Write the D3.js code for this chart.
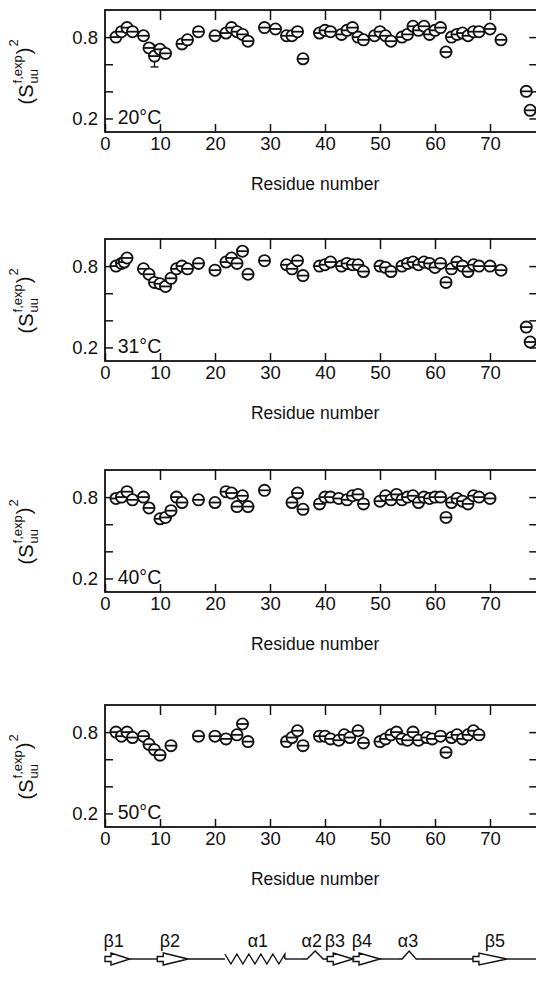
<!DOCTYPE html>
<html>
<head>
<meta charset="utf-8">
<script src="https://cdn.jsdelivr.net/npm/d3@7"></script>
<style>
  body { margin: 0; background: #fff; }
  text { font-family: "Liberation Sans", Arial, sans-serif; fill: #111; }
</style>
</head>
<body>
<svg id="chart" width="536" height="992"></svg>
<script>
// ---- data ----
const temps = ['20°C', '31°C', '40°C', '50°C'];

const res20 = [2, 3, 4, 5, 7, 8, 9, 10, 11, 14, 15, 17, 20, 22, 23, 24, 25, 26, 29, 31, 33, 34, 35, 36,
  39, 40, 41, 43, 44, 45, 46, 47, 49, 50, 51, 52, 54, 55, 56, 57, 58, 59, 60, 61, 62, 63, 64, 65, 66, 67, 68, 70, 72, 76.6, 77.3];
const s20 = [0.80, 0.84, 0.87, 0.84, 0.81, 0.72, 0.66, 0.71, 0.68, 0.75, 0.78, 0.84, 0.81, 0.83, 0.87, 0.84, 0.82, 0.77, 0.87, 0.86, 0.81, 0.81, 0.84, 0.64,
  0.83, 0.85, 0.84, 0.82, 0.85, 0.87, 0.80, 0.78, 0.81, 0.84, 0.81, 0.77, 0.80, 0.82, 0.88, 0.85, 0.88, 0.82, 0.85, 0.87, 0.69, 0.80, 0.82, 0.83, 0.81, 0.84, 0.84, 0.86, 0.78, 0.40, 0.26];

const res31 = [2, 3, 3.5, 4, 7, 8, 9, 10, 11, 12, 13, 14, 15, 17, 20, 22, 23, 24, 25, 26, 29, 33, 34, 35, 36,
  39, 40, 41, 43, 44, 45, 46, 47, 50, 51, 52, 54, 55, 56, 57, 58, 59, 60, 61, 62, 63, 64, 65, 66, 67, 68, 70, 72, 76.6, 77.3];
const s31 = [0.80, 0.82, 0.83, 0.86, 0.78, 0.74, 0.68, 0.67, 0.65, 0.71, 0.78, 0.80, 0.78, 0.82, 0.77, 0.83, 0.86, 0.82, 0.91, 0.74, 0.84, 0.81, 0.78, 0.84, 0.73,
  0.80, 0.81, 0.83, 0.80, 0.82, 0.81, 0.81, 0.76, 0.80, 0.79, 0.76, 0.80, 0.82, 0.83, 0.81, 0.83, 0.82, 0.79, 0.82, 0.68, 0.78, 0.83, 0.80, 0.76, 0.81, 0.80, 0.80, 0.77, 0.35, 0.24];

const res40 = [2, 3, 4, 5, 7, 8, 10, 11, 12, 13, 14, 17, 20, 22, 23, 24, 25, 26, 29, 34, 35, 36,
  39, 40, 41, 42.5, 44, 45, 46, 47, 50, 51, 52, 53, 54, 55, 56, 57, 58, 59, 60, 61, 62, 63, 64, 65, 66, 67, 68, 70];
const s40 = [0.79, 0.80, 0.84, 0.78, 0.80, 0.72, 0.64, 0.65, 0.70, 0.80, 0.76, 0.78, 0.76, 0.84, 0.83, 0.73, 0.81, 0.73, 0.85, 0.76, 0.83, 0.71,
  0.75, 0.80, 0.80, 0.79, 0.78, 0.81, 0.82, 0.75, 0.77, 0.81, 0.78, 0.82, 0.78, 0.80, 0.81, 0.76, 0.80, 0.79, 0.80, 0.80, 0.65, 0.76, 0.79, 0.77, 0.75, 0.81, 0.80, 0.79];

const res50 = [2, 3, 4, 5, 7, 8, 9, 10, 12, 17, 20, 22, 24, 25, 26, 33, 34, 35, 36,
  39, 40, 41, 42.5, 43.5, 44.5, 46, 47, 50, 51, 52, 53, 54, 55, 56, 57, 58.5, 59.5, 61, 62, 63, 64, 65, 66, 67, 68];
const s50 = [0.80, 0.77, 0.80, 0.76, 0.77, 0.71, 0.67, 0.63, 0.70, 0.77, 0.77, 0.75, 0.78, 0.86, 0.73, 0.73, 0.76, 0.81, 0.70,
  0.77, 0.77, 0.75, 0.74, 0.78, 0.76, 0.81, 0.72, 0.73, 0.75, 0.78, 0.80, 0.75, 0.74, 0.80, 0.74, 0.76, 0.75, 0.77, 0.65, 0.76, 0.78, 0.75, 0.78, 0.81, 0.78];

// the one long error bar (20°C, residue 9)
const errRes20 = [9];
const errLo20 = [0.58];
const errHi20 = [0.74];

const xTicks = [0, 10, 20, 30, 40, 50, 60, 70];
const yTicks = [0.2, 0.4, 0.6, 0.8];
const yTickLabels = { 0.2: '0.2', 0.8: '0.8' };

// secondary structure along the sequence (E strand, H helix, L loop)
const ssType = ['E', 'L', 'E', 'L', 'H', 'L', 'H', 'E', 'E', 'L', 'H', 'L', 'E'];
const ssStart = [0, 4.5, 9.5, 15.1, 21.8, 32.7, 36, 40.4, 45.1, 50, 53.3, 57.3, 66.9];
const ssEnd = [4.5, 9.5, 15.1, 21.8, 32.7, 36, 40.4, 45.1, 50, 53.3, 57.3, 66.9, 78.6];
const ssLabels = ['β1', 'β2', 'α1', 'α2', 'β3', 'β4', 'α3', 'β5'];
const ssLabelRes = [1.6, 11.8, 27.8, 37.6, 41.8, 46.7, 55.1, 70.9];

const panels = [
  { temp: temps[0], res: res20, s: s20, errRes: errRes20, errLo: errLo20, errHi: errHi20 },
  { temp: temps[1], res: res31, s: s31, errRes: [], errLo: [], errHi: [] },
  { temp: temps[2], res: res40, s: s40, errRes: [], errLo: [], errHi: [] },
  { temp: temps[3], res: res50, s: s50, errRes: [], errLo: [], errHi: [] },
];

// ---- layout ----
const svg = d3.select('#chart');
svg.append('rect').attr('width', 536).attr('height', 992).attr('fill', '#fff');

const panelTops = [10, 239, 470, 705];
const panelH = 122;
const x = d3.scaleLinear().domain([0, 78.6]).range([105, 537.3]);
const tickLen = 8;
const r = 5.6;
const fontFam = '"Liberation Sans", Arial, sans-serif';

panels.forEach((p, i) => {
  const top = panelTops[i];
  const bottom = top + panelH;
  const y = d3.scaleLinear().domain([0.1, 1.0]).range([bottom, top]);
  const g = svg.append('g');

  // frame
  g.append('rect')
    .attr('x', x.range()[0]).attr('y', top)
    .attr('width', x.range()[1] - x.range()[0]).attr('height', panelH)
    .attr('fill', 'none').attr('stroke', '#111').attr('stroke-width', 1.8);

  // x ticks, inward on bottom and top
  g.append('g')
    .attr('transform', `translate(0,${bottom})`)
    .call(d3.axisBottom(x).tickValues(xTicks).tickSize(-tickLen).tickPadding(5).tickFormat(d3.format('d')))
    .call(a => a.select('.domain').remove())
    .call(a => a.selectAll('.tick line').attr('stroke', '#111').attr('stroke-width', 1.5))
    .call(a => a.selectAll('text').attr('font-size', 18.5).attr('fill', '#111').style('font-family', fontFam));

  g.append('g')
    .attr('transform', `translate(0,${top})`)
    .call(d3.axisTop(x).tickValues(xTicks.slice(1)).tickSize(-tickLen - 2).tickFormat(''))
    .call(a => a.select('.domain').remove())
    .call(a => a.selectAll('.tick line').attr('stroke', '#111').attr('stroke-width', 1.5));

  // y ticks, inward on left and right
  g.append('g')
    .attr('transform', `translate(${x.range()[0]},0)`)
    .call(d3.axisLeft(y).tickValues(yTicks).tickSize(-tickLen).tickPadding(7)
      .tickFormat(d => yTickLabels[d] || ''))
    .call(a => a.select('.domain').remove())
    .call(a => a.selectAll('.tick line').attr('stroke', '#111').attr('stroke-width', 1.5))
    .call(a => a.selectAll('text').attr('font-size', 18.5).attr('fill', '#111').style('font-family', fontFam));

  g.append('g')
    .attr('transform', `translate(${x.range()[1]},0)`)
    .call(d3.axisRight(y).tickValues(yTicks).tickSize(-tickLen).tickFormat(''))
    .call(a => a.select('.domain').remove())
    .call(a => a.selectAll('.tick line').attr('stroke', '#111').attr('stroke-width', 1.5));

  // temperature label
  g.append('text')
    .attr('x', x(2.3)).attr('y', y(0.2) + 6)
    .attr('font-size', 19.5)
    .text(p.temp);

  // axis title
  g.append('text')
    .attr('x', x(38.2)).attr('y', bottom + 58)
    .attr('text-anchor', 'middle').attr('font-size', 17.5)
    .text('Residue number');

  // y label: (S^{f,exp}_{uu})^2, rotated
  const lab = g.append('g');
  const t1 = lab.append('text').attr('font-size', 20).attr('x', 0).attr('y', 0).text('(S');
  const w1 = t1.node().getComputedTextLength();
  const t2 = lab.append('text').attr('font-size', 13).attr('x', w1 + 1).attr('y', -11).text('f,exp');
  const t3 = lab.append('text').attr('font-size', 13).attr('x', w1 + 1).attr('y', 5).text('uu');
  const w2 = Math.max(t2.node().getComputedTextLength(), t3.node().getComputedTextLength());
  const t4 = lab.append('text').attr('font-size', 20).attr('x', w1 + w2 + 2).attr('y', -2).text(')');
  const w4 = t4.node().getComputedTextLength();
  lab.append('text').attr('font-size', 13).attr('x', w1 + w2 + w4 + 3).attr('y', -15).text('2');
  const total = w1 + w2 + w4 + 10;
  lab.attr('transform', `translate(33,${(top + bottom) / 2 + 1}) rotate(-90) translate(${-total / 2},0)`);

  // error bars
  const eb = g.append('g').attr('stroke', '#111').attr('stroke-width', 1.4);
  p.errRes.forEach((rv, k) => {
    eb.append('line').attr('x1', x(rv)).attr('x2', x(rv)).attr('y1', y(p.errLo[k])).attr('y2', y(p.errHi[k]));
    eb.append('line').attr('x1', x(rv) - 4).attr('x2', x(rv) + 4).attr('y1', y(p.errLo[k])).attr('y2', y(p.errLo[k]));
    eb.append('line').attr('x1', x(rv) - 4).attr('x2', x(rv) + 4).attr('y1', y(p.errHi[k])).attr('y2', y(p.errHi[k]));
  });

  // points: open circle with a short horizontal bar
  const pts = g.append('g').selectAll('g').data(p.res.map((rv, k) => ({ rv, sv: p.s[k] })))
    .join('g')
    .attr('transform', d => `translate(${x(d.rv)},${y(d.sv)})`);
  pts.append('circle').attr('r', r).attr('fill', '#fff').attr('stroke', '#111').attr('stroke-width', 1.8);
  pts.append('line').attr('x1', -r).attr('x2', r).attr('y1', 0).attr('y2', 0)
    .attr('stroke', '#111').attr('stroke-width', 1.8);
});

// ---- secondary structure strip ----
const ssY = 959;
const ss = svg.append('g').attr('fill', 'none').attr('stroke', '#111').attr('stroke-width', 1.4);
ssType.forEach((t, k) => {
  const x0 = x(ssStart[k]);
  const x1 = Math.min(x(ssEnd[k]), 536);
  if (t === 'L') {
    ss.append('line').attr('x1', x0).attr('x2', x1).attr('y1', ssY).attr('y2', ssY);
  } else if (t === 'E') {
    const xh = x0 + 6;
    const tip = x0 + Math.min(x1 - x0, 34);
    ss.append('path').attr('d',
      `M${x0},${ssY - 2.5} L${xh},${ssY - 2.5} L${xh},${ssY - 6} L${tip},${ssY} L${xh},${ssY + 6} L${xh},${ssY + 2.5} L${x0},${ssY + 2.5} Z`);
    if (tip < x1) ss.append('line').attr('x1', tip).attr('x2', x1).attr('y1', ssY).attr('y2', ssY);
  } else if (x1 - x0 > 40) {
    // long helix: zigzag around the line
    const n = Math.round((x1 - x0) / 12);
    const step = (x1 - x0) / n;
    let d = `M${x0},${ssY - 5}`;
    for (let j = 0; j < n; j++) {
      d += ` L${x0 + step * (j + 0.5)},${ssY + 5} L${x0 + step * (j + 1)},${ssY - 5}`;
    }
    d += ` L${x1},${ssY}`;
    ss.append('path').attr('d', d);
  } else {
    // short helix: a single peak
    const xm = (x0 + x1) / 2;
    ss.append('path').attr('d', `M${x0},${ssY} L${x0 + 4},${ssY} L${xm},${ssY - 8} L${x1 - 4},${ssY} L${x1},${ssY}`);
  }
});
svg.append('g').selectAll('text').data(ssLabels).join('text')
  .attr('x', (d, k) => x(ssLabelRes[k]))
  .attr('y', ssY - 12)
  .attr('text-anchor', 'middle')
  .attr('font-size', 18)
  .text(d => d);
</script>
</body>
</html>
